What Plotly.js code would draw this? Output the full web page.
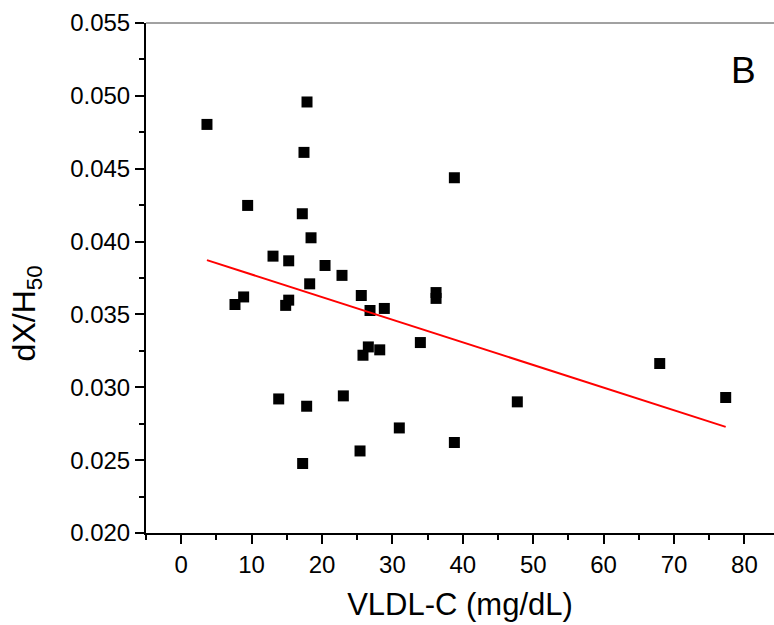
<!DOCTYPE html>
<html>
<head>
<meta charset="utf-8">
<script src="https://cdn.plot.ly/plotly-3.0.1.min.js"></script>
<style>html,body{margin:0;padding:0;background:#fff;}#chart{width:774px;height:625px;}</style>
</head>
<body>
<div id="chart"></div>
<script>
var vldlC = [3.66, 7.64, 8.87, 9.44, 13.04, 13.85, 14.84, 15.27, 15.27, 17.2, 17.25, 17.44, 17.82, 17.87, 18.25, 18.44, 20.43, 22.84, 23.03, 25.4, 25.58, 25.82, 26.58, 26.82, 28.2, 28.85, 30.98, 33.97, 36.2, 36.2, 38.8, 38.8, 47.74, 67.97, 77.34];
var dxH50 = [0.04804, 0.03568, 0.0362, 0.04248, 0.0390, 0.0292, 0.03562, 0.03598, 0.03868, 0.04191, 0.02477, 0.04612, 0.0287, 0.04958, 0.0371, 0.04026, 0.03836, 0.03768, 0.02941, 0.02563, 0.0363, 0.0322, 0.03277, 0.03527, 0.03257, 0.03541, 0.02721, 0.03307, 0.0365, 0.0361, 0.04438, 0.02621, 0.0290, 0.03163, 0.0293];
var fitX = [3.66, 77.34];
var fitY = [0.03873, 0.02728];
var xTitle = "VLDL-C (mg/dL)";
var yTitle = "dX/H<sub>50</sub>";
var panelLabel = "B";

var font = "Liberation Sans, Arial, sans-serif";
var traces = [
  {x: vldlC, y: dxH50, type: "scatter", mode: "markers",
   marker: {symbol: "square", size: 11, color: "#000", line: {width: 0}}, showlegend: false},
  {x: fitX, y: fitY, type: "scatter", mode: "lines",
   line: {color: "#ff0000", width: 2}, showlegend: false}
];
var layout = {
  width: 774, height: 625,
  margin: {l: 146, r: 0, t: 23, b: 92},
  paper_bgcolor: "#fff", plot_bgcolor: "#fff",
  font: {family: font, color: "#000"},
  xaxis: {
    range: [-5, 84.2], showgrid: false, zeroline: false,
    showline: true, linecolor: "#000", linewidth: 2,
    ticks: "outside", ticklen: 9, tickwidth: 2, tickcolor: "#000",
    tick0: 0, dtick: 10,
    minor: {ticks: "outside", ticklen: 5, tickwidth: 2, tickcolor: "#000", dtick: 5, tick0: 0, showgrid: false},
    tickfont: {size: 24, family: font},
    title: {text: xTitle, font: {size: 31, family: font}, standoff: 17}
  },
  yaxis: {
    range: [0.020, 0.055], showgrid: false, zeroline: false,
    showline: true, linecolor: "#000", linewidth: 2,
    ticks: "outside", ticklen: 9, tickwidth: 2, tickcolor: "#000",
    tick0: 0.02, dtick: 0.005, tickformat: ".3f",
    minor: {ticks: "outside", ticklen: 5, tickwidth: 2, tickcolor: "#000", dtick: 0.0025, tick0: 0.02, showgrid: false},
    tickfont: {size: 24, family: font}
  },
  shapes: [
    {type: "line", xref: "paper", yref: "paper", x0: 0, x1: 1, y0: 1, y1: 1,
     line: {color: "#444", width: 1}}
  ],
  annotations: [
    {text: yTitle, xref: "paper", yref: "paper", x: -0.19, y: 0.43,
     xanchor: "center", yanchor: "middle", textangle: -90, showarrow: false,
     font: {size: 32, family: font, color: "#000"}},
    {text: panelLabel, xref: "paper", yref: "paper", x: 0.952, y: 0.907,
     xanchor: "center", yanchor: "middle", showarrow: false,
     font: {size: 37, family: font, color: "#000"}}
  ]
};
Plotly.newPlot("chart", traces, layout, {staticPlot: true, displayModeBar: false});
</script>
</body>
</html>
